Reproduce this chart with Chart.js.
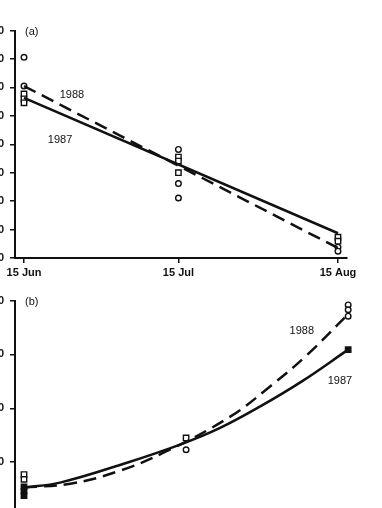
<!DOCTYPE html>
<html>
<head>
<meta charset="utf-8">
<script src="https://cdn.jsdelivr.net/npm/chart.js@4"></script>
<style>
  html, body { margin: 0; padding: 0; background: #fff; overflow: hidden; width: 382px; height: 508px; }
  .panel { position: absolute; }
  #wrapA { left: -25px; top: 18px; width: 397px; height: 265px; }
  #wrapB { left: -25px; top: 288px; width: 410px; height: 253px; }
</style>
</head>
<body>
<div id="wrapA" class="panel"><canvas id="chartA"></canvas></div>
<div id="wrapB" class="panel"><canvas id="chartB"></canvas></div>
<script>
// x axis: days after 15 Jun
const tickDays = [0, 30, 61];
const tickNames = ['15 Jun', '15 Jul', '15 Aug'];

// panel (a) - fitted lines
const aFitDays = [0, 61];
const aFit1987 = [56.3, 8.7];
const aFit1988 = [60.5, 3.5];
// panel (a) - observations
const aObsDays1987 = [0, 0, 0, 30, 30, 30, 61, 61];
const aObs1987 = [57.7, 56.0, 54.6, 35.5, 34.1, 30.0, 7.3, 5.9];
const aObsDays1988 = [0, 0, 30, 30, 30, 61, 61];
const aObs1988 = [70.6, 60.5, 38.2, 26.2, 21.1, 3.8, 2.4];

// panel (b) - fitted curves
const bCurveDays1987 = [0, 7, 20, 31, 38, 46, 54, 63];
const bCurve1987 = [5.3, 6.2, 9.9, 13.5, 16.3, 20.4, 25.0, 30.9];
const bCurveDays1988 = [0, 9, 18, 27, 40, 48, 55, 63];
const bCurve1988 = [5.3, 6.0, 8.2, 11.7, 18.4, 24.2, 29.9, 37.5];
// panel (b) - observations
const bObsDays1987 = [0, 0, 31.5];
const bObs1987 = [7.7, 6.8, 14.5];
const bFilledDays1987 = [0, 0, 0, 63];
const bFilled1987 = [5.4, 4.6, 3.8, 30.9];
const bObsDays1988 = [31.5, 63, 63, 63];
const bObs1988 = [12.3, 39.2, 38.3, 37.1];

const pts = (xs, ys) => xs.map((x, i) => ({ x: x, y: ys[i] }));

const FONT = "'Liberation Sans', Arial, sans-serif";

// draws the year labels and the panel letter
const notesPlugin = {
    id: 'notes',
    afterDatasetsDraw(chart, args, opts) {
        const c = chart.ctx;
        const area = chart.chartArea;
        c.save();
        c.fillStyle = '#111';
        c.font = '11px ' + FONT;
        c.textBaseline = 'middle';
        c.textAlign = 'left';
        c.fillText(opts.letter, area.left + 10, area.top + 1);
        c.textAlign = 'center';
        (opts.items || []).forEach(n => {
            c.fillText(n.text, chart.scales.x.getPixelForValue(n.x), chart.scales.y.getPixelForValue(n.y));
        });
        c.restore();
    }
};

function axes(xMin, xMax, yMax) {
    return {
        x: {
            type: 'linear',
            min: xMin,
            max: xMax,
            afterBuildTicks: s => { s.ticks = tickDays.map(v => ({ value: v })); },
            afterFit: s => { s.height = 25; },
            ticks: {
                color: '#111',
                font: { family: FONT, size: 11, weight: 'bold' },
                padding: 3,
                maxRotation: 0,
                callback: (v, i) => tickNames[i]
            },
            grid: { display: true, drawOnChartArea: false, drawTicks: true, tickLength: 5, color: '#111', lineWidth: 1.5 },
            border: { display: true, color: '#111', width: 2 }
        },
        y: {
            min: 0,
            max: yMax,
            afterFit: s => { s.width = 40; },
            ticks: {
                stepSize: 10,
                color: '#111',
                padding: 6,
                font: { family: FONT, size: 11, weight: 'bold' }
            },
            grid: { display: true, drawOnChartArea: false, drawTicks: true, tickLength: 5, color: '#111', lineWidth: 1.5 },
            border: { display: true, color: '#111', width: 2 }
        }
    };
}

const lineStyle = { showLine: true, pointRadius: 0, borderColor: '#111', borderWidth: 2.5, fill: false };
const circleStyle = { pointStyle: 'circle', pointRadius: 2.8, borderColor: '#111', backgroundColor: '#fff', pointBorderWidth: 1.4 };
const squareStyle = { pointStyle: 'rect', pointRadius: 3.8, borderColor: '#111', backgroundColor: '#fff', pointBorderWidth: 1.4 };

new Chart(document.getElementById('chartA'), {
    type: 'scatter',
    data: {
        datasets: [
            Object.assign({ label: '1987', data: pts(aFitDays, aFit1987) }, lineStyle),
            Object.assign({ label: '1988', data: pts(aFitDays, aFit1988), borderDash: [13, 7] }, lineStyle),
            Object.assign({ label: '1987 obs', data: pts(aObsDays1987, aObs1987) }, squareStyle),
            Object.assign({ label: '1988 obs', data: pts(aObsDays1988, aObs1988) }, circleStyle)
        ]
    },
    options: {
        responsive: true,
        maintainAspectRatio: false,
        animation: false,
        layout: { padding: { top: 10, right: 25, bottom: 0, left: 0 } },
        scales: axes(-1.75, 62.75, 80),
        plugins: {
            legend: { display: false },
            tooltip: { enabled: false },
            notes: {
                letter: '(a)',
                items: [
                    { text: '1988', x: 9.3, y: 57.4 },
                    { text: '1987', x: 7.0, y: 41.4 }
                ]
            }
        }
    },
    plugins: [notesPlugin]
});

new Chart(document.getElementById('chartB'), {
    type: 'scatter',
    data: {
        datasets: [
            Object.assign({ label: '1987', data: pts(bCurveDays1987, bCurve1987), tension: 0.4 }, lineStyle),
            Object.assign({ label: '1988', data: pts(bCurveDays1988, bCurve1988), tension: 0.4, borderDash: [13, 7] }, lineStyle),
            Object.assign({ label: '1987 obs', data: pts(bObsDays1987, bObs1987) }, squareStyle),
            Object.assign({ label: '1987 obs filled', data: pts(bFilledDays1987, bFilled1987) }, squareStyle, { backgroundColor: '#111' }),
            Object.assign({ label: '1988 obs', data: pts(bObsDays1988, bObs1988) }, circleStyle)
        ]
    },
    options: {
        responsive: true,
        maintainAspectRatio: false,
        animation: false,
        layout: { padding: { top: 10, right: 25, bottom: 0, left: 0 } },
        scales: axes(-1.75, 65.3, 40),
        plugins: {
            legend: { display: false },
            tooltip: { enabled: false },
            notes: {
                letter: '(b)',
                items: [
                    { text: '1988', x: 54.0, y: 34.4 },
                    { text: '1987', x: 61.4, y: 25.0 }
                ]
            }
        }
    },
    plugins: [notesPlugin]
});
</script>
</body>
</html>
